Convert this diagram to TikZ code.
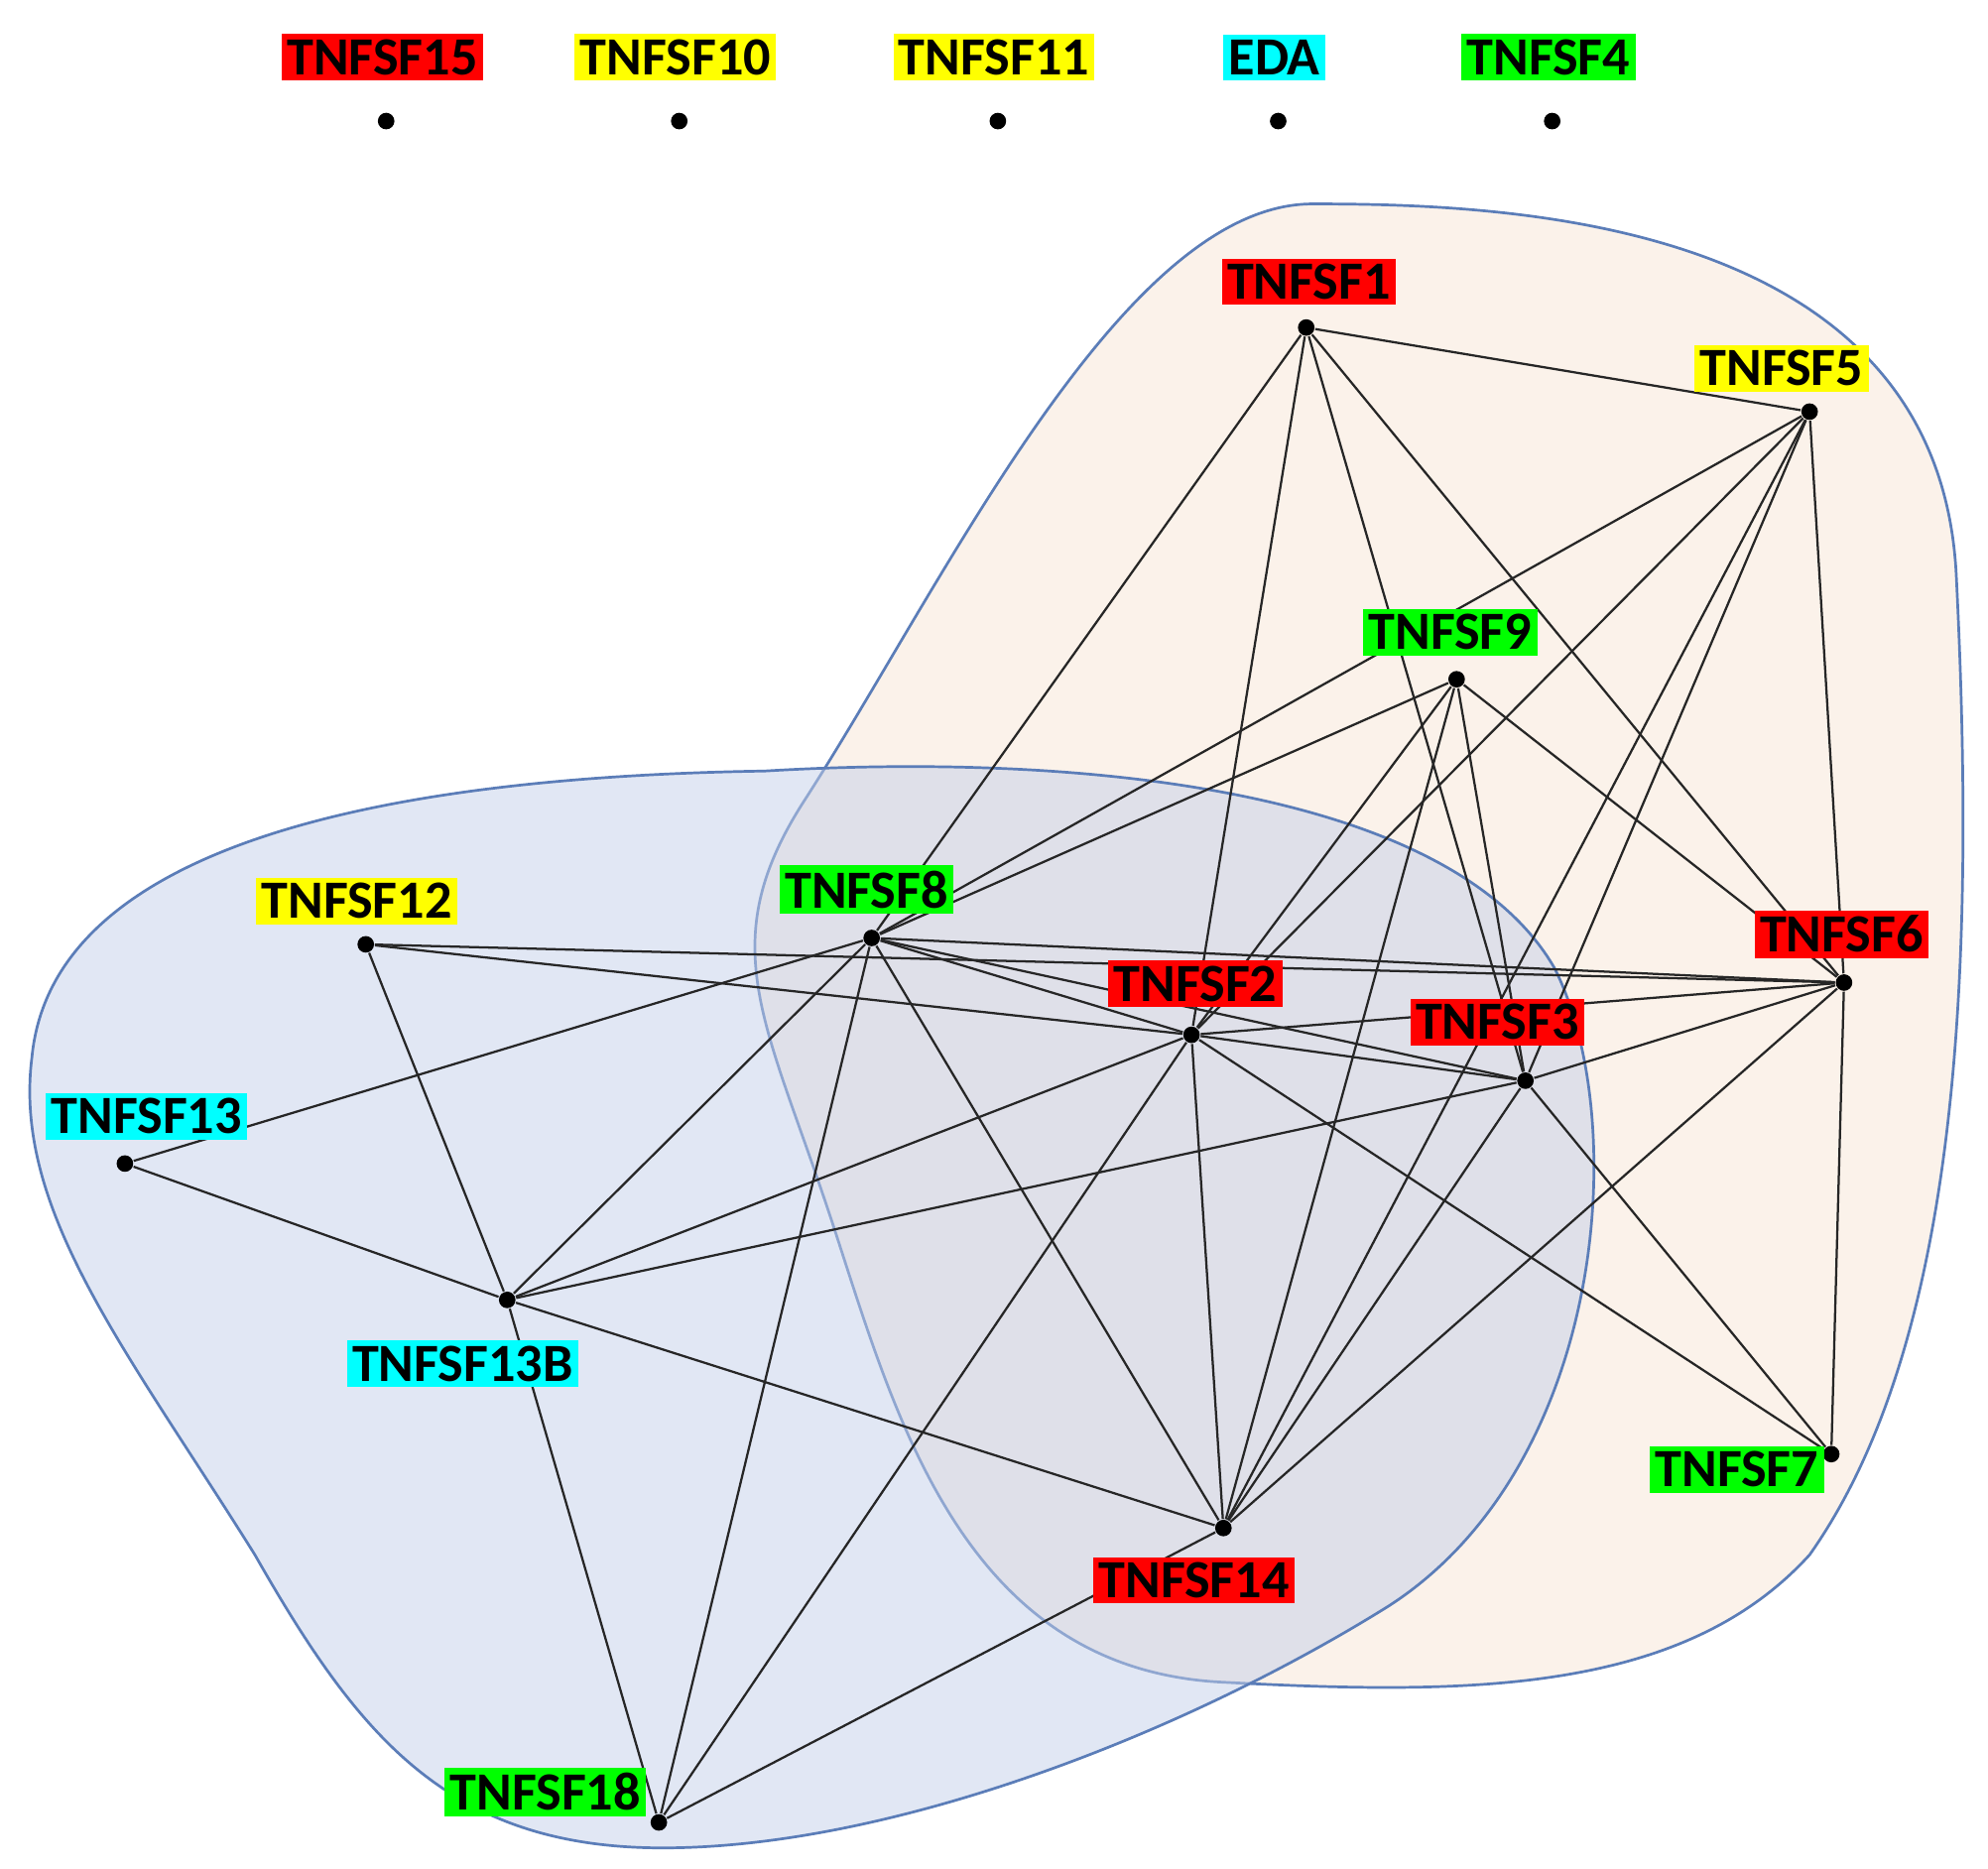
\documentclass[tikz,border=0pt]{standalone}
\usepackage{fontspec}
\setmainfont{Carlito}
\usetikzlibrary{positioning}
\definecolor{gred}{HTML}{FF0000}
\definecolor{gyellow}{HTML}{FFFF00}
\definecolor{gcyan}{HTML}{00FFFF}
\definecolor{ggreen}{HTML}{00FF00}
\definecolor{peach}{HTML}{FBF2EA}
\definecolor{bluish}{HTML}{C4CFE9}
\definecolor{rim}{HTML}{5B7DB8}

\tikzset{
  gene/.style={circle,fill=black,inner sep=0pt,minimum size=1.3mm},
  tag/.style={inner sep=1.2pt,font=\fontsize{12}{12}\selectfont\bfseries},
  link/.style={draw=black!85,line width=0.5pt},
  blob/.style={draw=rim,line width=0.6pt}
}

\begin{document}
\begin{tikzpicture}[x=1cm,y=-1cm]
\useasboundingbox (0,0) rectangle (15.6,14.66);

% groups
\path[blob,fill=peach] (10.3,1.6) .. controls (11.8,1.6) and (15.2,1.7) .. (15.35,4.5)
  .. controls (15.5,7.5) and (15.4,10.5) .. (14.2,12.2)
  .. controls (13.2,13.3) and (11.5,13.3) .. (9.6,13.2)
  .. controls (7.5,13.1) and (7.0,11.0) .. (6.5,9.5)
  .. controls (6.0,8.0) and (5.6,7.4) .. (6.3,6.3)
  .. controls (7.4,4.6) and (8.8,1.6) .. (10.3,1.6) -- cycle;
\path[blob,fill=bluish,fill opacity=0.5] (6.0,6.05) .. controls (8.5,5.9) and (11.4,6.2) .. (12.2,7.6)
  .. controls (12.8,8.8) and (12.6,11.5) .. (10.9,12.6)
  .. controls (9.3,13.6) and (7.0,14.5) .. (5.2,14.5)
  .. controls (3.5,14.5) and (2.8,13.6) .. (2.0,12.2)
  .. controls (1.0,10.6) and (0.1,9.5) .. (0.25,8.3)
  .. controls (0.4,6.7) and (2.8,6.1) .. (6.0,6.05) -- cycle;

% legend
\foreach \x/\n/\c in {3.03/TNFSF15/gred,5.33/TNFSF10/gyellow,7.83/TNFSF11/gyellow,10.03/EDA/gcyan,12.18/TNFSF4/ggreen}{
  \node[gene] (d\n) at (\x,0.95) {};
  \node[tag,fill=\c] (l\n) at (\x-0.03,0.45) {\n};
}

% genes
\node[gene] (f1) at (10.25,2.57) {};
\node[gene] (f5) at (14.2,3.23) {};
\node[gene] (f9) at (11.43,5.33) {};
\node[gene] (f8) at (6.84,7.36) {};
\node[gene] (f12) at (2.87,7.41) {};
\node[gene] (f2) at (9.35,8.12) {};
\node[gene] (f6) at (14.47,7.71) {};
\node[gene] (f3) at (11.97,8.48) {};
\node[gene] (f13) at (0.98,9.13) {};
\node[gene] (f13b) at (3.98,10.2) {};
\node[gene] (f7) at (14.37,11.41) {};
\node[gene] (f14) at (9.6,11.99) {};
\node[gene] (f18) at (5.17,14.3) {};

% edges
\begin{scope}[on background layer/.style={}]
\foreach \a/\b in {f1/f5,f1/f8,f1/f2,f1/f3,f1/f6,
  f5/f8,f5/f2,f5/f3,f5/f14,f5/f6,
  f9/f8,f9/f2,f9/f14,f9/f3,f9/f6,
  f8/f2,f8/f3,f8/f6,f8/f13,f8/f13b,f8/f18,f8/f14,
  f12/f6,f12/f2,f12/f13b,
  f2/f3,f2/f6,f2/f13b,f2/f18,f2/f14,f2/f7,
  f13b/f13,f13b/f3,f13b/f14,f13b/f18,
  f3/f6,f3/f14,f3/f7,
  f6/f14,f6/f7,f14/f18}
  \draw[link] (\a) -- (\b);
\end{scope}

% labels
\node[tag,fill=gred] (t1) at (10.27,2.21) {TNFSF1};
\node[tag,fill=gyellow] (t5) at (13.98,2.89) {TNFSF5};
\node[tag,fill=ggreen] (t9) at (11.38,4.96) {TNFSF9};
\node[tag,fill=ggreen] (t8) at (6.8,6.98) {TNFSF8};
\node[tag,fill=gyellow] (t12) at (2.8,7.07) {TNFSF12};
\node[tag,fill=gred] (t2) at (9.38,7.72) {TNFSF2};
\node[tag,fill=gred] (t6) at (14.45,7.33) {TNFSF6};
\node[tag,fill=gred] (t3) at (11.75,8.02) {TNFSF3};
\node[tag,fill=gcyan] (t13) at (1.15,8.76) {TNFSF13};
\node[tag,fill=gcyan] (t13b) at (3.63,10.7) {TNFSF13B};
\node[tag,fill=ggreen] (t7) at (13.63,11.53) {TNFSF7};
\node[tag,fill=gred] (t14) at (9.37,12.4) {TNFSF14};
\node[tag,fill=ggreen] (t18) at (4.28,14.06) {TNFSF18};
\end{tikzpicture}
\end{document}
